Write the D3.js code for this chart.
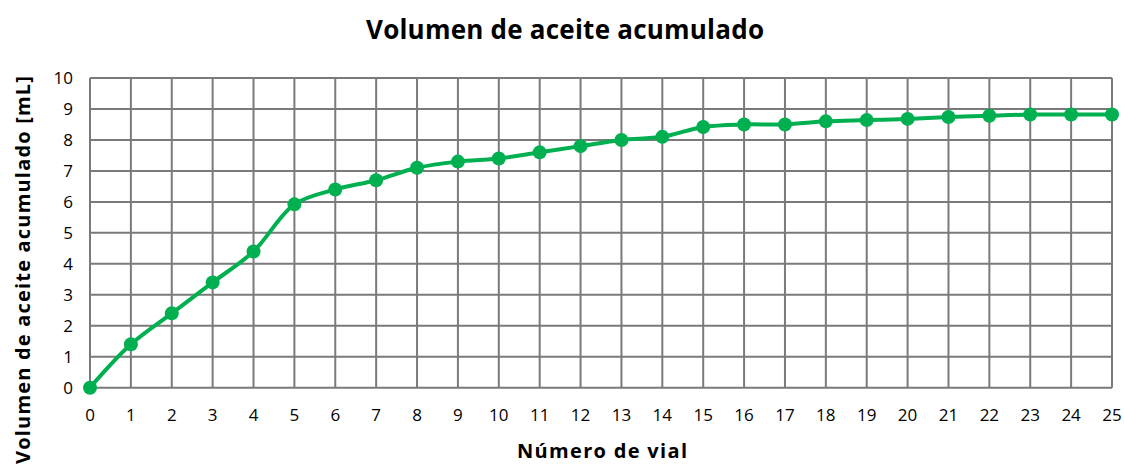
<!DOCTYPE html>
<html>
<head>
<meta charset="utf-8">
<script src="https://cdn.jsdelivr.net/npm/d3@7"></script>
<style>
  body { margin: 0; background: #fff; }
  text { font-family: "Open Sans", "Noto Sans", sans-serif; fill: #000; }
</style>
</head>
<body>
<div id="chart"></div>
<script>
// chart data
var vials = d3.range(0, 26);
var volume = [0, 1.4, 2.4, 3.4, 4.4, 5.92, 6.4, 6.7, 7.1, 7.3, 7.4, 7.6, 7.8, 8.0, 8.1,
  8.42, 8.5, 8.5, 8.6, 8.64, 8.68, 8.74, 8.78, 8.82, 8.82, 8.82];
var yTicks = d3.range(0, 11);

var width = 1124,
  height = 466;
var margin = { top: 78, right: 12, bottom: 78, left: 90 };

var svg = d3.select("#chart").append("svg")
  .attr("width", width)
  .attr("height", height);

var x = d3.scaleLinear().domain([0, 25]).range([margin.left, width - margin.right]);
var y = d3.scaleLinear().domain([0, 10]).range([height - margin.bottom - 0.3, margin.top]);

var green = "#00B050";
var gridColor = "#7a7a7a";

// grid
svg.append("g")
  .selectAll("line")
  .data(vials)
  .enter().append("line")
  .attr("x1", d => x(d)).attr("x2", d => x(d))
  .attr("y1", y(0)).attr("y2", y(10))
  .attr("stroke", gridColor).attr("stroke-width", 2);

svg.append("g")
  .selectAll("line")
  .data(yTicks)
  .enter().append("line")
  .attr("x1", x(0)).attr("x2", x(25))
  .attr("y1", d => y(d)).attr("y2", d => y(d))
  .attr("stroke", gridColor).attr("stroke-width", 2);

// tick labels
svg.append("g")
  .selectAll("text")
  .data(vials)
  .enter().append("text")
  .attr("x", d => x(d))
  .attr("y", y(0) + 33)
  .attr("text-anchor", "middle")
  .style("font-size", "17px")
  .text(d => d);

svg.append("g")
  .selectAll("text")
  .data(yTicks)
  .enter().append("text")
  .attr("x", x(0) - 17)
  .attr("y", d => y(d) + 6)
  .attr("text-anchor", "end")
  .style("font-size", "17px")
  .text(d => d);

// line
var line = d3.line()
  .x((d, i) => x(vials[i]))
  .y(d => y(d))
  .curve(d3.curveCatmullRom.alpha(0.5));

svg.append("path")
  .datum(volume)
  .attr("d", line)
  .attr("fill", "none")
  .attr("stroke", green)
  .attr("stroke-width", 4);

svg.append("g")
  .selectAll("circle")
  .data(volume)
  .enter().append("circle")
  .attr("cx", (d, i) => x(vials[i]))
  .attr("cy", d => y(d))
  .attr("r", 7)
  .attr("fill", green);

// titles
svg.append("text")
  .attr("x", 565)
  .attr("y", 39)
  .attr("text-anchor", "middle")
  .style("font-size", "26px")
  .style("font-weight", "bold")
  .attr("textLength", 398)
  .text("Volumen de aceite acumulado");

svg.append("text")
  .attr("x", 602)
  .attr("y", 458)
  .attr("text-anchor", "middle")
  .style("font-size", "20px")
  .style("font-weight", "bold")
  .attr("textLength", 170)
  .text("Número de vial");

svg.append("text")
  .attr("transform", "translate(30,270) rotate(-90)")
  .attr("text-anchor", "middle")
  .style("font-size", "20px")
  .style("font-weight", "bold")
  .attr("textLength", 388)
  .text("Volumen de aceite acumulado [mL]");
</script>
</body>
</html>
